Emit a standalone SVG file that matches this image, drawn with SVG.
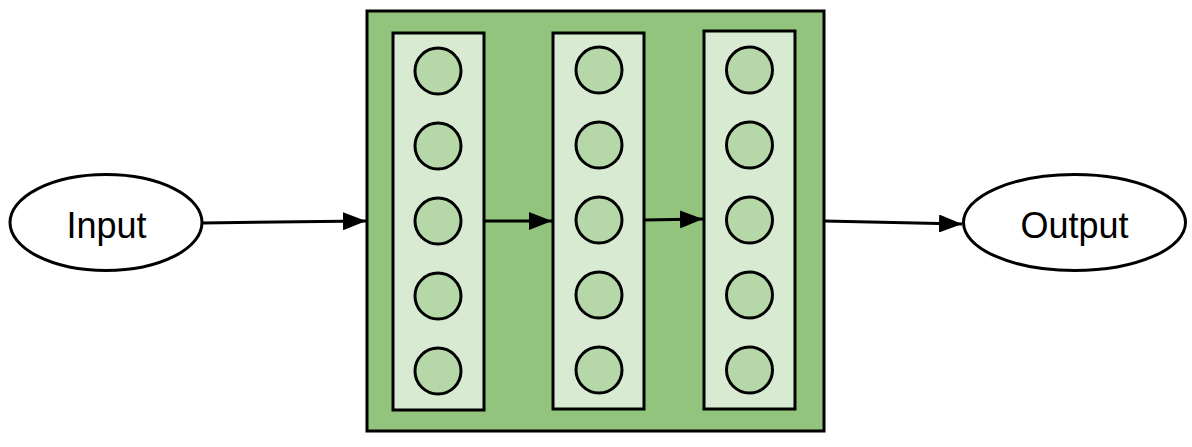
<svg xmlns="http://www.w3.org/2000/svg" width="1192" height="447" viewBox="0 0 1192 447">
<style>
.ell{fill:#ffffff;stroke:#000;stroke-width:3}
.outer{fill:#93c47d;stroke:#000;stroke-width:3}
.layer{fill:#d9ead3;stroke:#000;stroke-width:3}
.neuron{fill:#b6d7a8;stroke:#000;stroke-width:3}
.lbl{font-family:"Liberation Sans",Arial,sans-serif;font-size:36px;fill:#000;text-anchor:middle}
.edge{stroke:#000;stroke-width:3;fill:none;marker-end:url(#arr)}
</style>
<defs>
<marker id="arr" viewBox="0 0 23 18" refX="23" refY="9" markerWidth="23" markerHeight="18" markerUnits="userSpaceOnUse" orient="auto">
<path d="M0,0 L23,9 L0,18 z" fill="#000"/>
</marker>
</defs>
<g id="input"><ellipse class="ell" cx="106" cy="222.5" rx="96" ry="48"/><text class="lbl" x="106.5" y="237.5">Input</text></g>
<g id="output"><ellipse class="ell" cx="1074.5" cy="222.5" rx="111" ry="48"/><text class="lbl" x="1074.5" y="237.5">Output</text></g>
<g id="network">
<rect class="outer" x="367" y="11" width="457" height="420"/>
</g>
<g id="layer1">
<rect class="layer" x="393" y="33" width="91" height="377"/>
<circle class="neuron" cx="438" cy="71" r="23"/>
<circle class="neuron" cx="438" cy="146" r="23"/>
<circle class="neuron" cx="438" cy="221" r="23"/>
<circle class="neuron" cx="438" cy="296" r="23"/>
<circle class="neuron" cx="438" cy="371" r="23"/>
</g>
<g id="layer2">
<rect class="layer" x="553" y="33" width="91" height="376"/>
<circle class="neuron" cx="599" cy="70" r="23"/>
<circle class="neuron" cx="599" cy="145" r="23"/>
<circle class="neuron" cx="599" cy="220" r="23"/>
<circle class="neuron" cx="599" cy="295" r="23"/>
<circle class="neuron" cx="599" cy="370" r="23"/>
</g>
<g id="layer3">
<rect class="layer" x="704" y="31" width="91" height="378"/>
<circle class="neuron" cx="749.5" cy="70" r="23"/>
<circle class="neuron" cx="749.5" cy="145" r="23"/>
<circle class="neuron" cx="749.5" cy="220" r="23"/>
<circle class="neuron" cx="749.5" cy="295" r="23"/>
<circle class="neuron" cx="749.5" cy="370" r="23"/>
</g>
<g id="connectors">
<path class="edge" d="M203,223 L366,221"/>
<path class="edge" d="M484,221 L552,221"/>
<path class="edge" d="M644,220 L703,219"/>
<path class="edge" d="M824,221 L962,224"/>
</g>
</svg>
